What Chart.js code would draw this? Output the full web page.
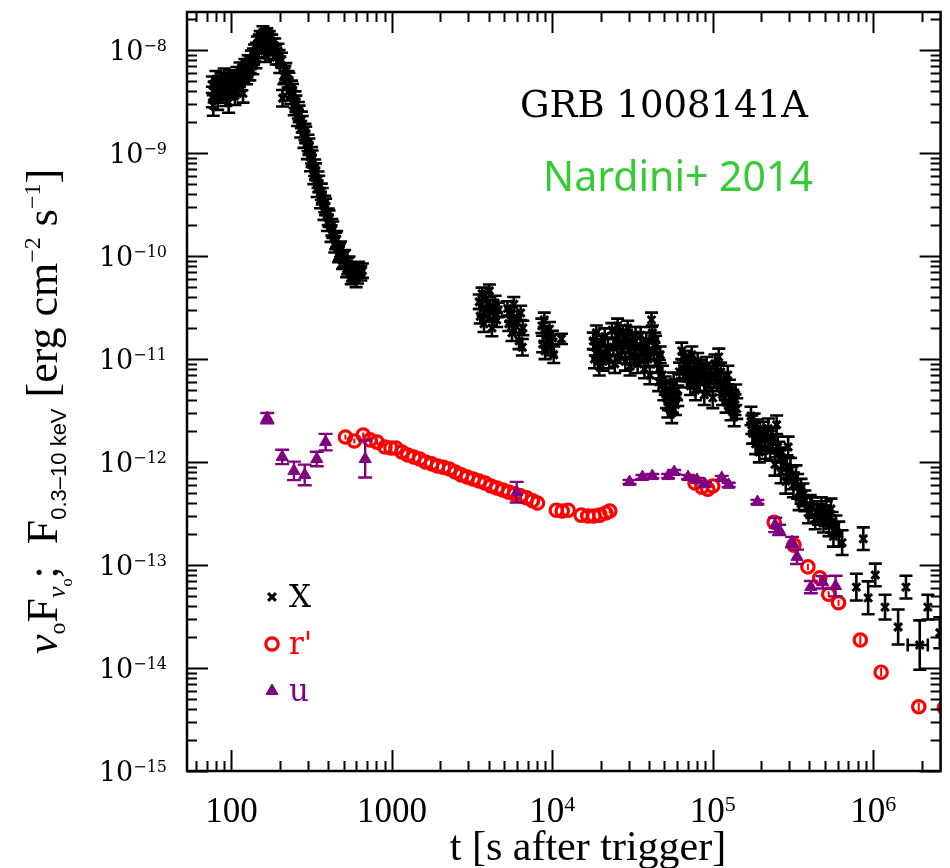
<!DOCTYPE html>
<html>
<head>
<meta charset="utf-8">
<title>GRB 1008141A light curve</title>
<script src="https://cdn.jsdelivr.net/npm/chart.js@4.4.1/dist/chart.umd.min.js"></script>
<style>
  html, body { margin: 0; padding: 0; background: #fff; }
  canvas { display: block; }
</style>
</head>
<body>
<canvas id="lc" width="950" height="868"></canvas>
<script>
// Rows are [time (s), flux, half error in dex, optional time low, optional time high]
const xrayData = [
  // early flare
  [76, 3.5e-9, 0.1], [76, 4.6e-9, 0.08], [77, 2.9e-9, 0.1], [78, 3.9e-9, 0.1], [79, 4.0e-9, 0.09], [80, 5.2e-9, 0.08],
  [81, 4.1e-9, 0.09], [82, 3.3e-9, 0.1], [83, 4.4e-9, 0.09], [85, 3.8e-9, 0.09], [86, 5.0e-9, 0.08], [87, 4.6e-9, 0.09],
  [88, 4.2e-9, 0.09], [90, 5.5e-9, 0.08], [91, 4.0e-9, 0.09], [92, 3.6e-9, 0.1], [94, 4.7e-9, 0.08], [96, 3.1e-9, 0.1],
  [97, 4.2e-9, 0.09], [98, 5.3e-9, 0.08], [100, 4.1e-9, 0.09], [101, 5.0e-9, 0.08], [103, 4.9e-9, 0.09], [105, 3.6e-9, 0.09],
  [107, 4.6e-9, 0.09], [108, 5.7e-9, 0.08], [110, 4.4e-9, 0.09], [112, 5.3e-9, 0.08], [113, 6.3e-9, 0.08], [116, 5.0e-9, 0.09],
  [118, 3.8e-9, 0.09], [119, 5.9e-9, 0.08], [121, 6.8e-9, 0.08], [124, 5.6e-9, 0.08], [125, 6.5e-9, 0.08], [127, 7.4e-9, 0.08],
  [130, 6.1e-9, 0.08], [131, 7.2e-9, 0.08], [133, 8.2e-9, 0.08], [136, 7.0e-9, 0.08], [137, 8.6e-9, 0.08], [139, 9.4e-9, 0.08],
  [142, 8.0e-9, 0.08], [143, 1.0e-8, 0.07], [145, 1.15e-8, 0.07], [148, 9.8e-9, 0.07], [149, 1.2e-8, 0.07], [151, 1.3e-8, 0.07],
  [154, 1.1e-8, 0.07], [156, 1.25e-8, 0.07], [157, 1.45e-8, 0.07], [160, 1.25e-8, 0.07], [162, 1.35e-8, 0.07], [163, 9.0e-9, 0.07],
  [166, 1.38e-8, 0.07], [168, 1.25e-8, 0.07], [169, 1.18e-8, 0.07], [172, 1.3e-8, 0.07], [174, 1.2e-8, 0.07], [175, 1.05e-8, 0.07],
  [178, 1.2e-8, 0.07], [180, 1.1e-8, 0.07], [182, 9.5e-9, 0.07], [186, 1.1e-8, 0.07], [188, 9.5e-9, 0.07], [190, 8.5e-9, 0.07],
  [195, 9.8e-9, 0.07], [198, 8.5e-9, 0.07], [200, 7.2e-9, 0.08], [205, 8.0e-9, 0.07], [208, 3.4e-9, 0.08], [212, 5.6e-9, 0.08],
  [215, 5.8e-9, 0.08], [218, 6.2e-9, 0.08], [222, 4.5e-9, 0.08], [225, 5.2e-9, 0.08], [228, 5.0e-9, 0.08], [234, 3.6e-9, 0.08],
  [237, 4.2e-9, 0.08], [240, 3.9e-9, 0.08], [246, 2.8e-9, 0.08], [249, 3.3e-9, 0.08], [252, 3.0e-9, 0.08], [258, 2.2e-9, 0.08],
  [261, 2.6e-9, 0.08], [264, 2.4e-9, 0.08], [270, 1.7e-9, 0.08], [273, 2.1e-9, 0.08], [276, 1.9e-9, 0.08], [283, 1.35e-9, 0.08],
  [287, 1.6e-9, 0.08], [290, 1.5e-9, 0.08], [297, 1.05e-9, 0.08], [300, 1.25e-9, 0.08], [304, 1.15e-9, 0.08], [311, 8.0e-10, 0.08],
  [315, 9.5e-10, 0.08], [318, 8.8e-10, 0.08], [326, 6.0e-10, 0.08], [330, 7.2e-10, 0.08], [334, 6.6e-10, 0.08], [342, 4.5e-10, 0.08],
  [346, 5.5e-10, 0.08], [350, 5.0e-10, 0.08], [359, 3.5e-10, 0.08], [363, 4.2e-10, 0.08], [368, 3.8e-10, 0.08], [377, 2.7e-10, 0.08],
  [381, 3.2e-10, 0.08], [386, 3.0e-10, 0.08], [396, 2.1e-10, 0.08], [401, 2.4e-10, 0.08], [406, 2.3e-10, 0.08], [417, 1.65e-10, 0.08],
  [422, 1.9e-10, 0.08], [428, 1.8e-10, 0.08], [440, 1.3e-10, 0.08], [446, 1.4e-10, 0.08], [452, 1.45e-10, 0.08], [465, 1.05e-10, 0.08],
  [471, 1.1e-10, 0.08], [478, 1.15e-10, 0.08], [492, 9.0e-11, 0.08], [499, 9.3e-11, 0.08], [507, 9.5e-11, 0.08], [522, 7.5e-11, 0.08],
  [530, 8.0e-11, 0.08], [540, 8.2e-11, 0.08], [558, 6.4e-11, 0.08], [568, 6.8e-11, 0.08], [578, 7.0e-11, 0.08], [598, 6.0e-11, 0.08],
  [610, 6.5e-11, 0.08], [620, 7.5e-11, 0.07], [640, 6.8e-11, 0.07], [655, 7.2e-11, 0.07],
  // second orbit
  [3500, 3.6e-11, 0.07], [3550, 2.6e-11, 0.07], [3650, 4.3e-11, 0.06], [3700, 3.1e-11, 0.07], [3750, 2.2e-11, 0.08],
  [3850, 3.8e-11, 0.07], [3950, 2.7e-11, 0.07], [4050, 4.6e-11, 0.06], [4100, 3.2e-11, 0.07], [4200, 2.0e-11, 0.08],
  [4300, 2.9e-11, 0.07], [4400, 3.5e-11, 0.07], [4500, 2.4e-11, 0.07], [4600, 3.0e-11, 0.07],
  [5250, 3.1e-11, 0.07], [5350, 2.2e-11, 0.07], [5500, 2.7e-11, 0.07], [5600, 1.8e-11, 0.08], [5750, 3.4e-11, 0.07],
  [5900, 2.1e-11, 0.07], [6050, 2.5e-11, 0.07], [6200, 1.5e-11, 0.08], [6350, 2.8e-11, 0.07], [6500, 1.3e-11, 0.08],
  [6550, 2.0e-11, 0.07],
  [8600, 2.1e-11, 0.07], [8700, 1.4e-11, 0.08], [8900, 2.4e-11, 0.07], [9000, 1.2e-11, 0.08], [9200, 1.75e-11, 0.07],
  [9400, 1.5e-11, 0.07], [9600, 1.95e-11, 0.07], [9800, 1.3e-11, 0.08], [10000, 1.6e-11, 0.07], [10200, 1.1e-11, 0.08],
  [11400, 1.57e-11, 0.05],
  // plateau
  [18000, 1.5e-11, 0.08], [18300, 1.0e-11, 0.09], [18500, 1.3e-11, 0.08], [18800, 1.8e-11, 0.07], [19200, 1.2e-11, 0.08],
  [19600, 8.5e-12, 0.09], [19900, 1.1e-11, 0.08], [20200, 1.4e-11, 0.08], [20700, 9.5e-12, 0.09], [21200, 1.65e-11, 0.08],
  [21700, 1.1e-11, 0.08], [22200, 1.3e-11, 0.08], [22600, 1.0e-11, 0.09], [23500, 1.9e-11, 0.07], [24000, 1.3e-11, 0.08],
  [24500, 9.0e-12, 0.09], [25000, 1.5e-11, 0.08], [25500, 2.1e-11, 0.07], [26000, 1.6e-11, 0.07], [26500, 1.1e-11, 0.08],
  [27000, 1.2e-11, 0.08], [27500, 1.8e-11, 0.07], [28000, 1.4e-11, 0.08], [28500, 9.5e-12, 0.09], [29000, 1.6e-11, 0.08],
  [29500, 2.0e-11, 0.07], [30000, 1.2e-11, 0.08], [30500, 8.5e-12, 0.09], [31000, 1.1e-11, 0.08], [31500, 1.5e-11, 0.08],
  [32500, 1.05e-11, 0.08], [33000, 1.7e-11, 0.08], [33500, 1.3e-11, 0.08], [34000, 9.0e-12, 0.09], [35500, 1.7e-11, 0.08],
  [36500, 1.1e-11, 0.08], [37000, 1.3e-11, 0.08], [37500, 8.0e-12, 0.09], [38500, 1.5e-11, 0.08], [39500, 1.0e-11, 0.08],
  [40000, 1.2e-11, 0.08], [40500, 7.0e-12, 0.09], [41500, 2.4e-11, 0.07], [42000, 1.8e-11, 0.07], [43000, 1.2e-11, 0.08],
  [43500, 1.5e-11, 0.08], [44000, 1.4e-11, 0.08], [45000, 9.0e-12, 0.09], [46000, 6.0e-12, 0.09], [46500, 8.0e-12, 0.09],
  [47000, 1.1e-11, 0.08], [48500, 7.0e-12, 0.09], [49500, 5.0e-12, 0.1], [50500, 5.5e-12, 0.09], [51500, 4.2e-12, 0.1],
  [52500, 3.4e-12, 0.1], [53000, 4.0e-12, 0.1], [54000, 4.8e-12, 0.1], [55500, 3.0e-12, 0.1], [56000, 3.8e-12, 0.1],
  [57000, 6.0e-12, 0.09], [58500, 3.6e-12, 0.1], [59500, 5.0e-12, 0.1], [60500, 4.4e-12, 0.1], [62000, 7.5e-12, 0.09],
  [64000, 1.2e-11, 0.08], [65500, 8.0e-12, 0.09], [66500, 9.0e-12, 0.09], [67500, 1.0e-11, 0.08], [69000, 6.5e-12, 0.09],
  [70000, 7.5e-12, 0.09], [71000, 9.0e-12, 0.08], [72500, 5.5e-12, 0.09], [74000, 1.1e-11, 0.08], [75000, 6.5e-12, 0.09],
  [76500, 8.0e-12, 0.09], [78000, 5.0e-12, 0.1], [79000, 7.0e-12, 0.09], [80500, 9.5e-12, 0.08], [83000, 6.0e-12, 0.09],
  [84500, 8.0e-12, 0.09], [86000, 7.5e-12, 0.09], [88500, 4.5e-12, 0.1], [90000, 6.0e-12, 0.09], [91500, 8.5e-12, 0.09],
  [94500, 5.5e-12, 0.09], [96000, 6.5e-12, 0.09], [97500, 7.0e-12, 0.09], [100000, 4.2e-12, 0.1], [103000, 9.0e-12, 0.09],
  [104500, 7.5e-12, 0.09], [106000, 6.0e-12, 0.09], [109000, 1.05e-11, 0.08], [110500, 5.5e-12, 0.09], [112000, 7.5e-12, 0.09],
  [115000, 4.5e-12, 0.1], [118000, 6.0e-12, 0.09], [119500, 5.0e-12, 0.1], [121000, 3.8e-12, 0.1], [124000, 7.0e-12, 0.09],
  [127000, 5.0e-12, 0.1], [128500, 4.2e-12, 0.1], [130000, 3.2e-12, 0.1], [133000, 4.0e-12, 0.1], [136000, 2.8e-12, 0.1],
  [137500, 3.6e-12, 0.1], [139000, 4.5e-12, 0.1], [141000, 3.3e-12, 0.1],
  // late decay
  [173000, 2.8e-12, 0.09], [175000, 2.3e-12, 0.09], [177000, 1.9e-12, 0.1], [181000, 2.4e-12, 0.09], [183000, 1.9e-12, 0.1],
  [185000, 1.5e-12, 0.1], [190000, 2.1e-12, 0.09], [195000, 1.25e-12, 0.1], [198000, 1.5e-12, 0.1], [200000, 1.7e-12, 0.1],
  [207000, 2.0e-12, 0.09], [210000, 1.7e-12, 0.1], [213000, 1.35e-12, 0.1],
  [222000, 2.1e-12, 0.1], [228000, 1.3e-12, 0.1], [232000, 1.6e-12, 0.1], [236000, 1.7e-12, 0.1], [244000, 9.5e-13, 0.11],
  [250000, 2.3e-12, 0.09], [254000, 1.4e-12, 0.1], [258000, 1.25e-12, 0.1], [266000, 8.0e-13, 0.11], [270000, 1.1e-12, 0.1],
  [275000, 1.05e-12, 0.1], [285000, 6.5e-13, 0.12], [290000, 9.0e-13, 0.11], [295000, 1.4e-12, 0.1], [305000, 8.5e-13, 0.11],
  [312000, 7.0e-13, 0.11], [318000, 6.0e-13, 0.12], [330000, 7.2e-13, 0.11], [338000, 5.8e-13, 0.12], [345000, 4.5e-13, 0.12],
  [355000, 5.2e-13, 0.12], [365000, 4.8e-13, 0.11],
  [375000, 4.2e-13, 0.1], [395000, 3.2e-13, 0.1], [405000, 3.8e-13, 0.1], [415000, 3.6e-13, 0.1], [435000, 2.8e-13, 0.1],
  [445000, 3.3e-13, 0.1], [455000, 3.1e-13, 0.1], [475000, 3.6e-13, 0.1], [490000, 2.6e-13, 0.1], [500000, 3.0e-13, 0.1],
  [510000, 3.3e-13, 0.1], [530000, 2.4e-13, 0.1], [545000, 3.5e-13, 0.1], [555000, 2.6e-13, 0.1],
  [565000, 1.9e-13, 0.1], [585000, 2.4e-13, 0.1], [610000, 2.0e-13, 0.12], [640000, 1.65e-13, 0.12],
  [785000, 6.1e-14, 0.13], [867000, 1.8e-13, 0.11], [930000, 4.8e-14, 0.16], [1030000, 8.0e-14, 0.11],
  [1185000, 3.9e-14, 0.12], [1430000, 2.5e-14, 0.17], [1600000, 6.1e-14, 0.11],
  [1950000, 1.67e-14, 0.24, 1640000, 2190000], [2190000, 3.9e-14, 0.12], [2600000, 2.2e-14, 0.15]
];

const rBandData = [
  [513, 1.75e-12, 0.025], [583, 1.6e-12, 0.025], [662, 1.83e-12, 0.025], [731, 1.64e-12, 0.025], [808, 1.56e-12, 0.025],
  [905, 1.4e-12, 0.025], [986, 1.37e-12, 0.025], [1059, 1.37e-12, 0.025], [1153, 1.25e-12, 0.025], [1256, 1.17e-12, 0.025],
  [1368, 1.12e-12, 0.025], [1490, 1.07e-12, 0.025], [1622, 1.0e-12, 0.025], [1767, 9.6e-13, 0.025], [1924, 9.15e-13, 0.025],
  [2095, 8.9e-13, 0.025], [2281, 8.55e-13, 0.025], [2484, 8.0e-13, 0.025], [2705, 7.5e-13, 0.025], [2946, 7.15e-13, 0.025],
  [3208, 6.85e-13, 0.025], [3493, 6.55e-13, 0.025], [3804, 6.25e-13, 0.025], [4142, 5.85e-13, 0.025], [4510, 5.6e-13, 0.025],
  [4911, 5.35e-13, 0.025], [5348, 5.1e-13, 0.025], [5823, 4.9e-13, 0.025], [6341, 4.7e-13, 0.025], [6905, 4.5e-13, 0.025],
  [7519, 4.2e-13, 0.025], [8076, 4.0e-13, 0.025],
  [10580, 3.4e-13, 0.025], [11520, 3.35e-13, 0.025], [12550, 3.4e-13, 0.025],
  [15110, 3.05e-13, 0.025], [16680, 2.99e-13, 0.025], [18150, 2.99e-13, 0.025], [19770, 3.05e-13, 0.025],
  [21530, 3.2e-13, 0.025], [22800, 3.35e-13, 0.025],
  [77450, 6.25e-13, 0.025], [85500, 5.7e-13, 0.025], [93100, 5.45e-13, 0.025], [100000, 5.85e-13, 0.025],
  [241400, 2.6e-13, 0.03], [320500, 1.56e-13, 0.03], [391500, 9.6e-14, 0.03], [464500, 7.5e-14, 0.03],
  [527600, 5.2e-14, 0.03], [607900, 4.3e-14, 0.03], [831000, 1.87e-14, 0.04], [1120000, 9.1e-15, 0.04],
  [1923000, 4.2e-15, 0.04], [2780000, 4.1e-15, 0.04], [2780000, 2.3e-15, 0.04]
];

const uBandData = [
  [167, 2.67e-12, 0.05], [207, 1.12e-12, 0.07], [245, 8.2e-13, 0.09], [286, 7.5e-13, 0.1], [340, 1.07e-12, 0.07],
  [386, 1.56e-12, 0.08], [681, 1.07e-12, 0.18], [5995, 5.1e-13, 0.1],
  [30270, 6.4e-13, 0.02], [36440, 7.15e-13, 0.02], [42000, 7.3e-13, 0.02], [52720, 7.3e-13, 0.02], [57410, 8.0e-13, 0.02],
  [70110, 7.15e-13, 0.02], [79680, 6.7e-13, 0.02], [89270, 6.1e-13, 0.02], [113700, 7.0e-13, 0.02], [125600, 6.0e-13, 0.02],
  [189800, 4.1e-13, 0.02], [244900, 2.45e-13, 0.07], [259300, 2.19e-13, 0.05], [312000, 1.67e-13, 0.05],
  [335000, 1.2e-13, 0.07], [408500, 6.1e-14, 0.06], [484300, 6.8e-14, 0.06], [582400, 6.25e-14, 0.1]
];

const seriesLabels = ['X', "r'", 'u'];
const seriesColors = ['#000000', '#ff0000', '#800080'];

const xRange = [52.8, 2.63e6];
const yRange = [1e-15, 2.34e-8];
const xTickValues = [100, 1000, 1e4, 1e5, 1e6];
const xTickLabels = [['100', ''], ['1000', ''], ['10', '4'], ['10', '5'], ['10', '6']];
const yTickValues = [1e-15, 1e-14, 1e-13, 1e-12, 1e-11, 1e-10, 1e-9, 1e-8];
const yTickLabels = [['10', '\u221215'], ['10', '\u221214'], ['10', '\u221213'], ['10', '\u221212'],
                     ['10', '\u221211'], ['10', '\u221210'], ['10', '\u22129'], ['10', '\u22128']];

function toPoints(rows) {
  return rows.map(r => ({ x: r[0], y: r[1] }));
}

// vertical (and the odd horizontal) error bars, drawn just under each dataset's markers
const errorBars = {
  id: 'errorBars',
  beforeDatasetDraw(chart, args) {
    const ds = chart.data.datasets[args.index];
    if (!ds.rows) return;
    const ctx = chart.ctx, xs = chart.scales.x, ys = chart.scales.y, area = chart.chartArea;
    ctx.save();
    ctx.beginPath();
    ctx.rect(area.left, area.top, area.right - area.left, area.bottom - area.top);
    ctx.clip();
    ctx.strokeStyle = ds.borderColor;
    ctx.lineWidth = ds.errWidth;
    ds.rows.forEach(r => {
      const x = xs.getPixelForValue(r[0]);
      const f = Math.pow(10, r[2]);
      const yHi = ys.getPixelForValue(r[1] * f);
      const yLo = ys.getPixelForValue(r[1] / f);
      const c = ds.capHalf;
      ctx.beginPath();
      ctx.moveTo(x, yHi); ctx.lineTo(x, yLo);
      if (c > 0) {
        ctx.moveTo(x - c, yHi); ctx.lineTo(x + c, yHi);
        ctx.moveTo(x - c, yLo); ctx.lineTo(x + c, yLo);
      }
      if (r.length > 3) {
        const y = ys.getPixelForValue(r[1]);
        const x0 = xs.getPixelForValue(r[3]), x1 = xs.getPixelForValue(r[4]);
        ctx.moveTo(x0, y); ctx.lineTo(x1, y);
        ctx.moveTo(x0, y - c); ctx.lineTo(x0, y + c);
        ctx.moveTo(x1, y - c); ctx.lineTo(x1, y + c);
      }
      ctx.stroke();
    });
    ctx.restore();
  }
};

function drawPieces(ctx, pieces, x, y) {
  pieces.forEach(p => {
    ctx.font = p.f;
    ctx.fillText(p.t, x, y + (p.dy || 0));
    x += ctx.measureText(p.t).width;
  });
  return x;
}

// frame with inward ticks, tick labels, axis titles, annotations and legend
const frame = {
  id: 'frame',
  afterDatasetsDraw(chart) {
    const ctx = chart.ctx, xs = chart.scales.x, ys = chart.scales.y;
    const { left, right, top, bottom } = chart.chartArea;
    ctx.save();
    ctx.strokeStyle = '#000';
    ctx.fillStyle = '#000';

    ctx.lineWidth = 2.5;
    ctx.strokeRect(left, top, right - left, bottom - top);

    ctx.lineWidth = 2;
    ctx.beginPath();
    for (let d = 1; d <= 6; d++) {
      for (let m = 1; m <= 9; m++) {
        const v = m * Math.pow(10, d);
        if (v < xRange[0] || v > xRange[1]) continue;
        const px = Math.round(xs.getPixelForValue(v)) + 0.5;
        const len = m === 1 ? 21 : 10;
        ctx.moveTo(px, bottom); ctx.lineTo(px, bottom - len);
        ctx.moveTo(px, top); ctx.lineTo(px, top + len);
      }
    }
    for (let d = -15; d <= -8; d++) {
      for (let m = 1; m <= 9; m++) {
        const v = m * Math.pow(10, d);
        if (v < yRange[0] || v > yRange[1]) continue;
        const py = Math.round(ys.getPixelForValue(v)) + 0.5;
        const len = m === 1 ? 21 : 10;
        ctx.moveTo(left, py); ctx.lineTo(left + len, py);
        ctx.moveTo(right, py); ctx.lineTo(right - len, py);
      }
    }
    ctx.stroke();

    // x tick labels
    ctx.textBaseline = 'alphabetic';
    ctx.textAlign = 'left';
    xTickValues.forEach((v, i) => {
      const [base, sup] = xTickLabels[i];
      const pieces = [{ t: base, f: '35px "Liberation Serif"' }];
      if (sup) pieces.push({ t: sup, f: '22px "Liberation Serif"', dy: -11 });
      let w = 0;
      pieces.forEach(p => { ctx.font = p.f; w += ctx.measureText(p.t).width; });
      drawPieces(ctx, pieces, xs.getPixelForValue(v) - w / 2, 822);
    });

    // y tick labels
    yTickValues.forEach((v, i) => {
      const [base, sup] = yTickLabels[i];
      const pieces = [{ t: base, f: '27px "DejaVu Serif"' }, { t: sup, f: '16px "DejaVu Serif"', dy: -9 }];
      let w = 0;
      pieces.forEach(p => { ctx.font = p.f; w += ctx.measureText(p.t).width; });
      drawPieces(ctx, pieces, 167 - w, ys.getPixelForValue(v) + 10);
    });

    // x title
    ctx.font = '42px "Liberation Serif"';
    ctx.textAlign = 'center';
    ctx.fillText('t [s after trigger]', 588, 860);
    ctx.textAlign = 'left';

    // y title, rotated, read from the bottom up
    ctx.save();
    ctx.translate(57, 654);
    ctx.rotate(-Math.PI / 2);
    drawPieces(ctx, [
      { t: '\u03bd', f: 'italic 44px "Liberation Serif"' },
      { t: 'o', f: '24px "Liberation Serif"', dy: 8 },
      { t: 'F', f: '44px "Liberation Serif"' },
      { t: '\u03bd', f: 'italic 26px "Liberation Serif"', dy: 8 },
      { t: 'o', f: '16px "Liberation Serif"', dy: 15 },
      { t: ';', f: '44px "Liberation Serif"' },
      { t: '  F', f: '44px "Liberation Serif"' },
      { t: '0.3\u201310 keV', f: '22px "Liberation Sans"', dy: 9 },
      { t: ' [erg cm', f: '44px "Liberation Serif"' },
      { t: '\u22122', f: '24px "Liberation Serif"', dy: -17 },
      { t: ' s', f: '44px "Liberation Serif"' },
      { t: '\u22121', f: '24px "Liberation Serif"', dy: -17 },
      { t: ']', f: '44px "Liberation Serif"' }
    ], 0, 0);
    ctx.restore();

    // annotations
    ctx.font = '37px "DejaVu Serif"';
    ctx.fillText('GRB 1008141A', 520, 117);
    ctx.fillStyle = '#33cc33';
    ctx.font = '41px "Noto Sans"';
    ctx.fillText('Nardini+ 2014', 543, 191);

    // legend, one row per dataset
    const legendRows = [597, 644, 691];
    chart.data.datasets.forEach(ds => {
      const y = legendRows[ds.legendRow];
      ctx.fillStyle = ds.backgroundColor;
      ctx.strokeStyle = ds.borderColor;
      ctx.lineWidth = ds.borderWidth;
      Chart.helpers.drawPoint(ctx, {
        pointStyle: ds.pointStyle, radius: ds.pointRadius, borderWidth: ds.borderWidth
      }, 272, y);
      ctx.fillStyle = ds.borderColor;
      ctx.font = '31px "DejaVu Serif"';
      ctx.fillText(ds.label, 289, y + 10);
    });

    ctx.restore();
  }
};

const chart = new Chart(document.getElementById('lc'), {
  type: 'scatter',
  data: {
    datasets: [
      {
        label: seriesLabels[2], data: toPoints(uBandData), rows: uBandData, legendRow: 2, order: 0,
        pointStyle: 'triangle', pointRadius: 7, borderWidth: 1,
        borderColor: seriesColors[2], backgroundColor: seriesColors[2],
        errWidth: 2.4, capHalf: 7
      },
      {
        label: seriesLabels[1], data: toPoints(rBandData), rows: rBandData, legendRow: 1, order: 1,
        pointStyle: 'circle', pointRadius: 6.2, borderWidth: 3.2,
        borderColor: seriesColors[1], backgroundColor: 'rgba(0,0,0,0)',
        errWidth: 2, capHalf: 0
      },
      {
        label: seriesLabels[0], data: toPoints(xrayData), rows: xrayData, legendRow: 0, order: 2,
        pointStyle: 'crossRot', pointRadius: 5.5, borderWidth: 3,
        borderColor: seriesColors[0], backgroundColor: seriesColors[0],
        errWidth: 2.6, capHalf: 6.5
      }
    ]
  },
  options: {
    responsive: false,
    animation: false,
    devicePixelRatio: 1,
    layout: { padding: { top: 12, right: 2, left: 0, bottom: 0 } },
    elements: { point: { hoverRadius: 0 } },
    plugins: {
      legend: { display: false },
      tooltip: { enabled: false }
    },
    scales: {
      x: {
        type: 'logarithmic', min: xRange[0], max: xRange[1],
        grid: { display: false }, border: { display: false },
        ticks: { display: false },
        afterFit(s) { s.height = 97; }
      },
      y: {
        type: 'logarithmic', min: yRange[0], max: yRange[1],
        grid: { display: false }, border: { display: false },
        ticks: { display: false },
        afterFit(s) { s.width = 187; }
      }
    }
  },
  plugins: [errorBars, frame]
});
</script>
</body>
</html>
